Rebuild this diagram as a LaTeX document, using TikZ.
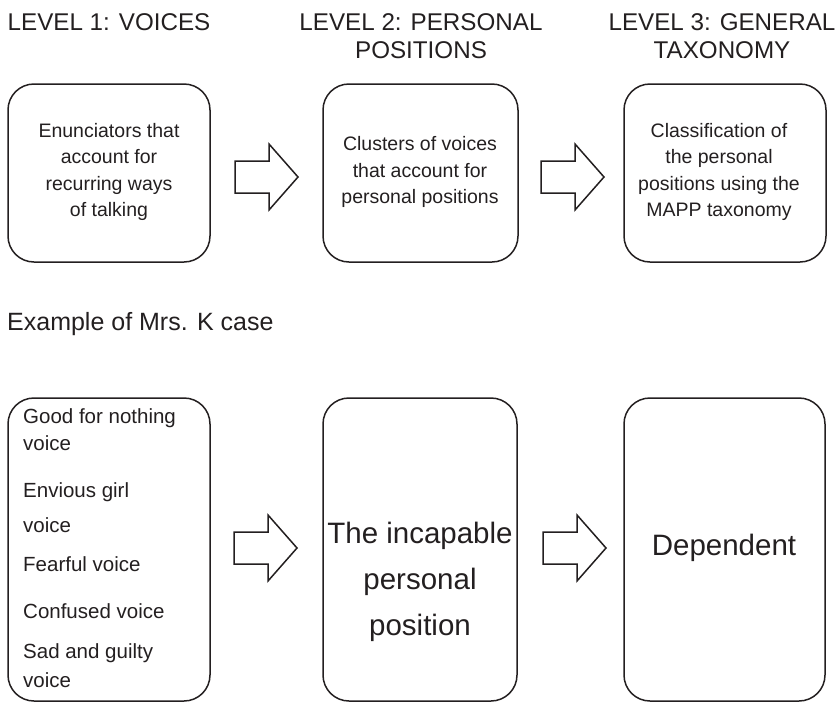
\documentclass[tikz,border=0pt]{standalone}
\usepackage{fontspec}
\setmainfont{Liberation Sans}
\definecolor{ink}{HTML}{231F20}
\begin{document}
\begin{tikzpicture}[x=1pt,y=-1pt,
  box/.style={draw=ink,line width=1.5pt,rounded corners=26pt},
  head/.style={font=\fontsize{24.2}{28}\selectfont,text=ink,align=center,inner sep=0pt},
  exhead/.style={font=\fontsize{25}{28}\selectfont,text=ink,inner sep=0pt},
  small/.style={font=\fontsize{19.5}{26.5}\selectfont,text=ink,align=center,inner sep=0pt},
  big/.style={font=\fontsize{29.5}{46}\selectfont,text=ink,align=center,inner sep=0pt},
  item/.style={font=\fontsize{20.5}{27}\selectfont,text=ink,anchor=base west,inner sep=0pt},
  barrow/.style={draw=ink,line width=1.5pt,line join=miter,fill=white},
  pics/blockarrow/.style={code={
    \draw[barrow] (0,-16) -- (34,-16) -- (34,-33) -- (63,0) -- (34,33) -- (34,16) -- (0,16) -- cycle;}}]
\useasboundingbox (0,0) rectangle (839,702);
% headers
\node[head,anchor=base] (h1) at (109,30) {LEVEL 1: VOICES};
\node[head,anchor=base] (h2) at (421,58) {LEVEL 2: PERSONAL\\POSITIONS};
\node[head,anchor=base] (h3) at (722,58) {LEVEL 3: GENERAL\\TAXONOMY};
% top boxes
\draw[box] (8,84) rectangle (210,262);
\draw[box] (323,84) rectangle (518,262);
\draw[box] (624,84) rectangle (826,262);
\node[small] (t1) at (109,172) {Enunciators that\\account for\\recurring ways\\of talking};
\node[small] (t2) at (420,172) {Clusters of voices\\that account for\\personal positions};
\node[small] (t3) at (719,172) {Classification of\\the personal\\positions using the\\MAPP taxonomy};
\pic at (235,177) {blockarrow};
\pic at (541,177) {blockarrow};
% example
\node[exhead,anchor=base west] (ex) at (7,330) {Example of Mrs. K case};
% bottom boxes
\draw[box] (8,398) rectangle (210,701);
\draw[box] (323,398) rectangle (517,701);
\draw[box] (624,398) rectangle (825,701);
\node[item] (i1) at (23,423) {Good for nothing};
\node[item] (i1b) at (23,450) {voice};
\node[item] (i2) at (23,497) {Envious girl};
\node[item] (i2b) at (23,532) {voice};
\node[item] (i3) at (23,571) {Fearful voice};
\node[item] (i4) at (23,618) {Confused voice};
\node[item] (i5) at (23,658) {Sad and guilty};
\node[item] (i5b) at (23,687) {voice};
\node[big] (m) at (420,582) {The incapable\\personal\\position};
\node[big] (d) at (724,548) {Dependent};
\pic at (234,548) {blockarrow};
\pic at (543,548) {blockarrow};
\end{tikzpicture}
\end{document}
